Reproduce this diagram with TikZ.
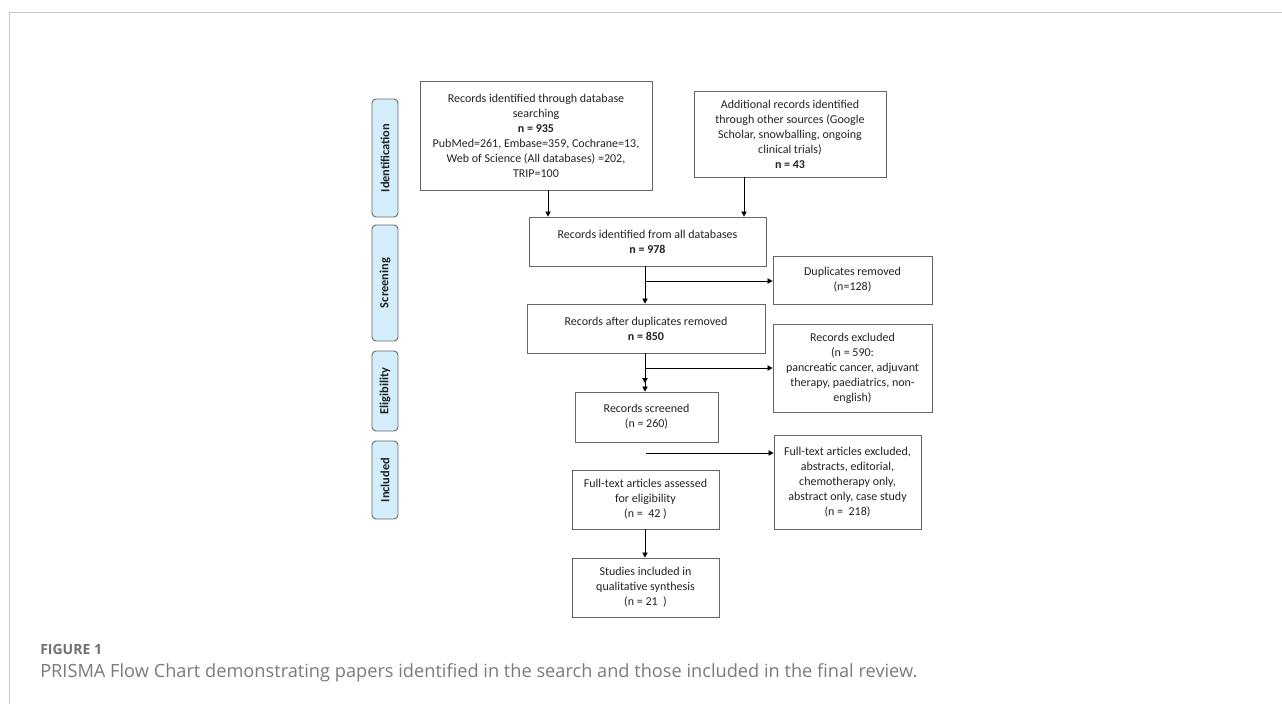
\documentclass[tikz,border=0pt]{standalone}
\usepackage{fontspec}
\setmainfont{Carlito}
\newfontfamily\capfont{Open Sans}
\usetikzlibrary{arrows.meta}
\definecolor{boxgray}{HTML}{666666}
\definecolor{phasegray}{HTML}{6A6A6A}
\definecolor{phaseblue}{HTML}{D4EEFC}
\definecolor{framegray}{HTML}{C8C8C8}
\definecolor{capgray}{HTML}{707070}
\definecolor{captext}{HTML}{7A7A7A}
\definecolor{txt}{HTML}{222222}
\begin{document}
\begin{tikzpicture}[x=0.75pt,y=-0.75pt,
  box/.style={draw=boxgray, line width=0.65pt, align=center, text=txt, font=\fontsize{9}{11.25}\selectfont, inner sep=2pt},
  phase/.style={draw=phasegray, line width=0.7pt, fill=phaseblue, rounded corners=3pt, rotate=90, text=txt, font=\fontsize{9.3}{10}\selectfont\bfseries, inner sep=0pt},
  arr/.style={-{Triangle[length=3.8pt,width=4pt]}, line width=0.6pt},
  arrtwo/.style={-{Triangle[length=3.8pt,width=4pt,sep=2.5pt]Triangle[length=3.8pt,width=4pt]}, line width=0.6pt},
  capfig/.style={anchor=base west, inner sep=0pt, text=capgray, font=\capfont\bfseries\fontsize{10.5}{12}\selectfont},
  captxt/.style={anchor=base west, inner sep=0pt, text=captext, font=\capfont\fontsize{12.75}{15}\selectfont}
]
\useasboundingbox (0,0) rectangle (1282,704);
\draw[framegray, line width=0.9pt] (9.5,704) -- (9.5,12.5) -- (1282,12.5);

% phase labels
\node[phase, minimum width=88.5pt, minimum height=19.5pt] (p1) at (385,158) {Identification};
\node[phase, minimum width=87pt, minimum height=19.5pt] (p2) at (385,283) {Screening};
\node[phase, minimum width=60pt, minimum height=19.5pt] (p3) at (385,391) {Eligibility};
\node[phase, minimum width=58.5pt, minimum height=19.5pt] (p4) at (385,480) {Included};

% boxes
\node[box, minimum width=174pt, minimum height=81.75pt] (b1) at (536,135.5)
  {Records identified through database\\searching\\\textbf{n = 935}\\PubMed=261, Embase=359, Cochrane=13,\\Web of Science (All databases) =202,\\TRIP=100};
\node[box, minimum width=144pt, minimum height=64.5pt] (b2) at (790,134)
  {Additional records identified\\through other sources (Google\\Scholar, snowballing, ongoing\\clinical trials)\\\textbf{n = 43}};
\node[box, minimum width=177.75pt, minimum height=36.75pt] (b3) at (647.5,241.5)
  {Records identified from all databases\\\textbf{n = 978}};
\node[box, minimum width=119.25pt, minimum height=36pt] (dup) at (852.5,280)
  {Duplicates removed\\(n=128)};
\node[box, minimum width=178.5pt, minimum height=36.75pt] (b4) at (646,328.5)
  {Records after duplicates removed\\\textbf{n = 850}};
\node[box, minimum width=119.25pt, minimum height=66pt] (excl) at (852.5,368)
  {Records excluded\\(n = 590:\\pancreatic cancer, adjuvant\\therapy, paediatrics, non-\\english)};
\node[box, minimum width=107.25pt, minimum height=37.5pt] (b5) at (646.5,417)
  {Records screened\\(n = 260)};
\node[box, minimum width=110.25pt, minimum height=70.5pt] (ftx) at (847.5,482)
  {Full-text articles excluded,\\abstracts, editorial,\\chemotherapy only,\\abstract only, case study\\(n =~~218)};
\node[box, minimum width=110.25pt, minimum height=44.25pt] (b6) at (645.5,499.5)
  {Full-text articles assessed\\for eligibility\\(n =~~42 )};
\node[box, minimum width=110.25pt, minimum height=44.25pt] (b7) at (645.5,587.5)
  {Studies included in\\qualitative synthesis\\(n = 21~~)};

% connectors
\coordinate (a1) at (548,0);
\coordinate (a2) at (744,0);
\coordinate (a3) at (645,0);
\coordinate (j1) at (645,281);
\coordinate (j2) at (645,368);
\coordinate (j3) at (646,453);
\draw[arr] (b1.south -| a1) -- (b3.north -| a1);
\draw[arr] (b2.south -| a2) -- (b3.north -| a2);
\draw[arr] (b3.south -| a3) -- (b4.north -| a3);
\draw[arr] (j1) -- (j1 -| dup.west);
\draw[arrtwo] (b4.south -| a3) -- (b5.north -| a3);
\draw[arr] (j2) -- (j2 -| excl.west);
\draw[arr] (j3) -- (j3 -| ftx.west);
\draw[arr] (b6.south -| a3) -- (b7.north -| a3);

% caption
\node[capfig] (fig) at (40,654) {FIGURE 1};
\node[captxt] (cap) at (40,677) {\resizebox{657.75pt}{!}{PRISMA Flow Chart demonstrating papers identified in the search and those included in the final review.}};
\end{tikzpicture}
\end{document}
